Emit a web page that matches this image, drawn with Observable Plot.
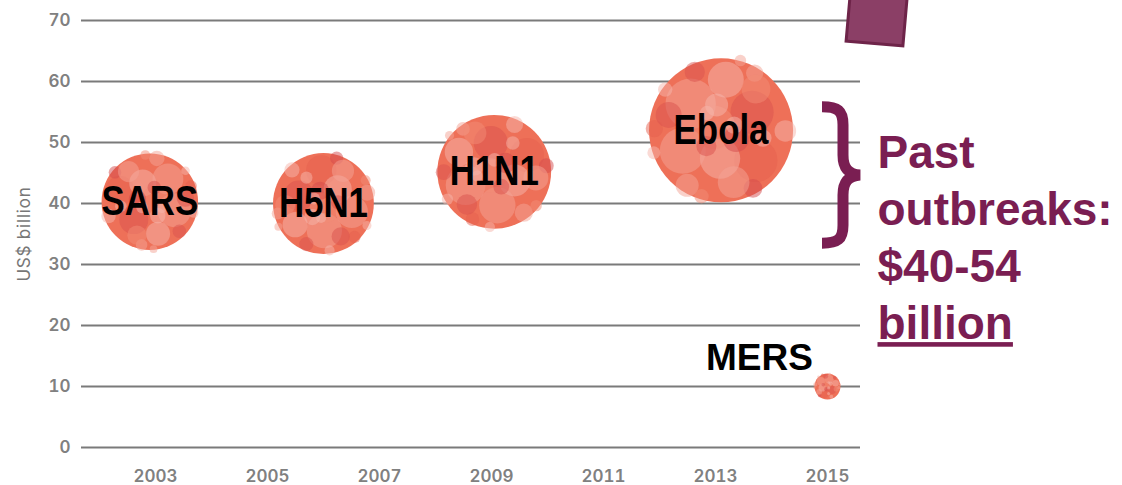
<!DOCTYPE html>
<html>
<head>
<meta charset="utf-8">
<script src="https://cdn.jsdelivr.net/npm/d3@7"></script>
<script src="https://cdn.jsdelivr.net/npm/@observablehq/plot@0.6"></script>
<style>
  html, body { margin: 0; padding: 0; background: #fff; }
  #chart { width: 1122px; height: 485px; overflow: hidden; }
  #chart svg [aria-label="y-axis tick label"] text,
  #chart svg [aria-label="x-axis tick label"] text { font-weight: 600; }
</style>
</head>
<body>
<div id="chart"></div>
<script>
// Economic cost of past outbreaks (US$ billion)
const outbreaks = ["SARS", "H5N1", "H1N1", "Ebola", "MERS"];
const years = [2002.9, 2006, 2009.05, 2013.1, 2015];
const costs = [40.3, 40, 45.2, 52, 10];
const relativeSize = [0.67, 0.7, 0.79, 1, 0.18];

const yTicks = [0, 10, 20, 30, 40, 50, 60, 70];
const xTicks = [2003, 2005, 2007, 2009, 2011, 2013, 2015];
const noteLines = ["Past", "outbreaks:", "$40-54", "billion"];
const braceSpan = [32.6, 56.6];

const rows = outbreaks.map((name, i) => ({
  name, year: years[i], cost: costs[i], size: relativeSize[i]
}));

const purple = "#7a1e52";
const bubbleBase = "#ee7058";
const tints = ["#f4a395", "#f6b5ac", "#d9524e", "#e55f4d", "#f28b76", "#d34a4b"];

// Texture of overlapping translucent discs drawn inside each bubble:
// [angle in degrees, distance from centre, radius] (both as fractions of the bubble radius), tint
const texture = [
  [20, 0.55, 0.35, 0], [75, 0.7, 0.25, 1], [130, 0.5, 0.3, 2], [200, 0.65, 0.3, 3],
  [250, 0.4, 0.28, 1], [310, 0.6, 0.32, 0], [0, 0.1, 0.3, 4], [45, 0.88, 0.14, 2],
  [100, 0.92, 0.12, 0], [160, 0.9, 0.15, 1], [220, 0.93, 0.13, 5], [280, 0.9, 0.16, 0],
  [340, 0.92, 0.12, 3], [15, 0.95, 0.1, 1], [190, 0.25, 0.18, 5], [60, 0.35, 0.16, 1],
  [290, 0.3, 0.14, 2], [110, 0.75, 0.2, 4], [235, 0.75, 0.22, 0], [355, 0.75, 0.18, 2],
  [140, 0.2, 0.12, 1], [170, 0.6, 0.12, 1], [30, 0.3, 0.1, 1], [265, 0.96, 0.1, 4],
  [85, 1.0, 0.08, 0], [320, 0.98, 0.09, 1]
];

function bubbleTexture(index, scales) {
  const g = d3.create("svg:g").attr("aria-label", "bubble texture");
  rows.forEach((d, i) => {
    const cx = scales.x(d.year), cy = scales.y(d.cost), r = scales.r(d.size);
    const turn = i * 67;
    g.append("g").selectAll("circle").data(texture).join("circle")
      .attr("cx", t => cx + Math.cos((t[0] + turn) * Math.PI / 180) * t[1] * r)
      .attr("cy", t => cy + Math.sin((t[0] + turn) * Math.PI / 180) * t[1] * r)
      .attr("r", t => t[2] * r)
      .attr("fill", t => tints[t[3]])
      .attr("fill-opacity", 0.5);
  });
  return g.node();
}

// Curly brace next to the past-outbreak bubbles
function brace(index, scales, values, dims) {
  const right = dims.width - dims.marginRight;
  const top = scales.y(braceSpan[1]) + 5, bottom = scales.y(braceSpan[0]) - 5;
  const mid = (top + bottom) / 2;
  const x0 = right - 38, stem = right - 17, tip = right;
  const p = d3.path();
  p.moveTo(x0, top);
  p.bezierCurveTo(x0 + 16, top, stem, top + 4, stem, top + 18);
  p.lineTo(stem, mid - 20);
  p.bezierCurveTo(stem, mid - 7, stem + 5, mid - 1, tip, mid);
  p.bezierCurveTo(stem + 5, mid + 1, stem, mid + 7, stem, mid + 20);
  p.lineTo(stem, bottom - 18);
  p.bezierCurveTo(stem, bottom - 4, x0 + 16, bottom, x0, bottom);
  return d3.create("svg:path")
    .attr("d", p.toString())
    .attr("fill", "none")
    .attr("stroke", purple)
    .attr("stroke-width", 11)
    .attr("stroke-linejoin", "miter")
    .node();
}

// Slide tab in the top-right corner
function tab(index, scales, values, dims) {
  return d3.create("svg:rect")
    .attr("x", -28.5).attr("y", -70).attr("width", 57).attr("height", 70)
    .attr("transform", `translate(${dims.width - 247.5},43.5) rotate(5)`)
    .attr("fill", "#8b3f66")
    .attr("stroke", "#6e2449")
    .attr("stroke-width", 3)
    .node();
}

const chart = Plot.plot({
  width: 1122,
  height: 485,
  marginLeft: 81,
  marginRight: 262,
  marginTop: 20,
  marginBottom: 38,
  style: { fontFamily: "Inter, 'Open Sans', sans-serif", fontSize: "17px", color: "#808080", background: "#fff" },
  x: { domain: [2001.68, 2015.59] },
  y: { domain: [0, 70] },
  r: { type: "linear", domain: [0, 1], range: [0, 72] },
  marks: [
    Plot.ruleY(yTicks, { stroke: "#7a7a7a", strokeWidth: 2 }),
    Plot.axisY({ ticks: yTicks, tickSize: 0, tickPadding: 11, label: null, fontSize: 17 }),
    Plot.axisX({ ticks: xTicks, tickSize: 0, tickPadding: 22, label: null, fontSize: 17, tickFormat: d => `${d}` }),
    Plot.text(["US$ billion"], {
      frameAnchor: "left", textAnchor: "middle", rotate: -90, dx: -57,
      fontSize: 17, fill: "#777777"
    }),
    Plot.dot(rows, { x: "year", y: "cost", r: "size", fill: bubbleBase, stroke: "none" }),
    bubbleTexture,
    Plot.text(rows.filter(d => d.name !== "MERS"), {
      x: "year", y: "cost", text: "name",
      fontFamily: "'Liberation Sans', Arial, sans-serif",
      fontWeight: "bold", fontSize: 42, fill: "#000"
    }),
    Plot.text(rows.filter(d => d.name === "MERS"), {
      x: "year", y: "cost", text: "name", dx: -68, dy: -28,
      fontFamily: "'Liberation Sans', Arial, sans-serif",
      fontWeight: "bold", fontSize: 37, fill: "#000"
    }),
    brace,
    tab,
    Plot.text([noteLines.join("\n")], {
      frameAnchor: "top-right", textAnchor: "start", lineAnchor: "top",
      dx: 17, dy: 107, lineHeight: 1.24,
      fontFamily: "'Liberation Sans', Arial, sans-serif",
      fontWeight: "bold", fontSize: 46, fill: purple
    })
  ]
});

// Condensed lettering for the labels inside the bubbles
const narrow = new Set(outbreaks.filter(n => n !== "MERS"));
d3.select(chart).selectAll("text")
  .filter(function () { return narrow.has(this.textContent); })
  .each(function () {
    const el = d3.select(this);
    const x = +el.attr("x") || 0, y = +el.attr("y") || 0;
    const prior = el.attr("transform") || "";
    el.attr("transform", `${prior} translate(${x},${y}) scale(0.83,1) translate(${-x},${-y})`);
  });

// Slightly tracked axis title
d3.select(chart).selectAll("text")
  .filter(function () { return this.textContent === "US$ billion"; })
  .style("letter-spacing", "0.8px");

d3.select(chart).selectAll("tspan")
  .filter(function () { return this.textContent === "billion"; })
  .attr("text-decoration", "underline");

document.getElementById("chart").append(chart);
</script>
</body>
</html>
